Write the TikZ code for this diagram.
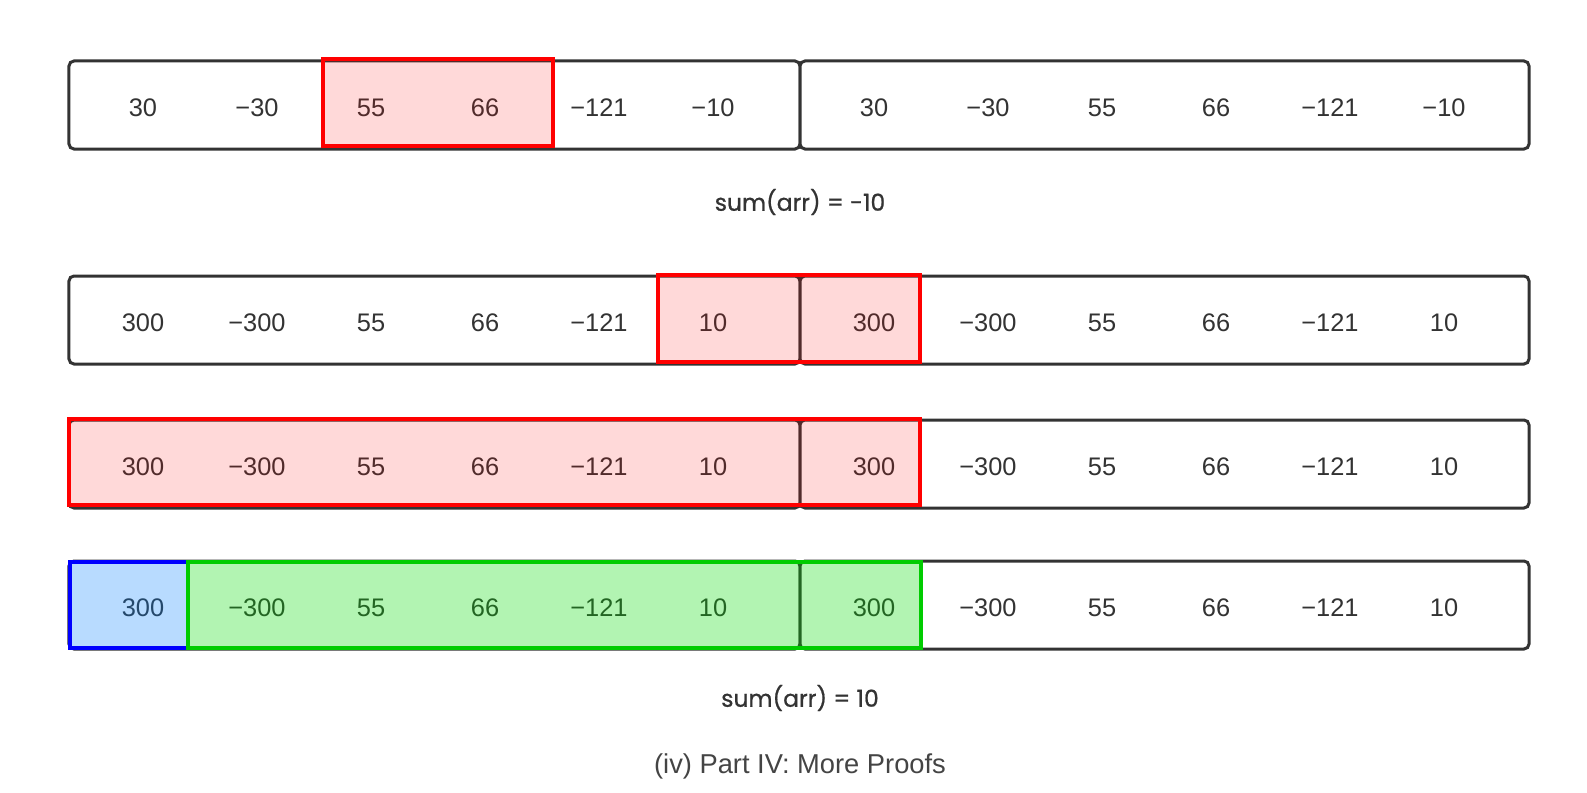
\documentclass[tikz,border=0pt]{standalone}
\usepackage{fontspec}
\setmainfont{Liberation Sans}
\newfontfamily\comicfont[FakeBold=0.8]{Poppins}
\definecolor{boxgray}{HTML}{333333}
\definecolor{capgray}{HTML}{444444}
\definecolor{hlblue}{RGB}{0,127,255}
\definecolor{hlgreen}{RGB}{0,204,0}
\begin{document}
\begin{tikzpicture}[x=1bp,y=-1bp,
  arr/.style={draw=boxgray, line width=3bp, rounded corners=5bp, fill=white,
    inner sep=0pt, minimum height=88bp},
  num/.style={text=boxgray, font=\fontsize{25.5}{28}\selectfont, inner sep=0pt},
  sumtxt/.style={text=boxgray, font=\comicfont\fontsize{23.5}{26}\selectfont, inner sep=0pt},
  captxt/.style={text=capgray, font=\fontsize{27.4}{30}\selectfont, inner sep=0pt},
  hlred/.style={draw=red, line width=3.3bp, fill=red, fill opacity=0.15, draw opacity=1,
    inner sep=0pt},
  hlblue/.style={draw=blue, line width=3.3bp, fill=hlblue, fill opacity=0.28, draw opacity=1,
    inner sep=0pt},
  hlgreen/.style={draw=hlgreen, line width=3.3bp, fill=hlgreen!70!green, fill opacity=0.3, draw opacity=1,
    inner sep=0pt}]
\useasboundingbox (0,0) rectangle (1587,793);

% array boxes
\foreach \r/\yy in {1/105, 2/320, 3/464, 4/605} {
  \node[arr, minimum width=731bp] (L\r) at (434.5,\yy) {};
  \node[arr, minimum width=729bp] (R\r) at (1164.5,\yy) {};
}

% numbers
\foreach \v [count=\i] in {30,−30,55,66,−121,−10} {
  \node[num] (n1l\i) at ({143+114*(\i-1)},108) {\v};
  \node[num] (n1r\i) at ({874+114*(\i-1)},108) {\v};
}
\foreach \r/\yy in {2/323, 3/467, 4/608} {
  \foreach \v [count=\i] in {300,−300,55,66,−121,10} {
    \node[num] (n\r l\i) at ({143+114*(\i-1)},\yy) {\v};
    \node[num] (n\r r\i) at ({874+114*(\i-1)},\yy) {\v};
  }
}

% highlights
\node[hlred, minimum width=230bp, minimum height=87bp] (h1) at (438,102.5) {};
\node[hlred, minimum width=262bp, minimum height=87bp] (h2) at (789,318.5) {};
\node[hlred, minimum width=851bp, minimum height=86bp] (h3) at (494.5,462) {};
\node[hlblue, minimum width=118bp, minimum height=86bp] (h4b) at (129,605) {};
\node[hlgreen, minimum width=733bp, minimum height=86bp] (h4g) at (554.5,605) {};

% texts
\node[sumtxt] (s1) at (800,202) {sum(arr) = -10};
\node[sumtxt] (s2) at (800,698) {sum(arr) = 10};
\node[captxt] (cap) at (800,766) {(iv) Part IV: More Proofs};
\end{tikzpicture}
\end{document}
